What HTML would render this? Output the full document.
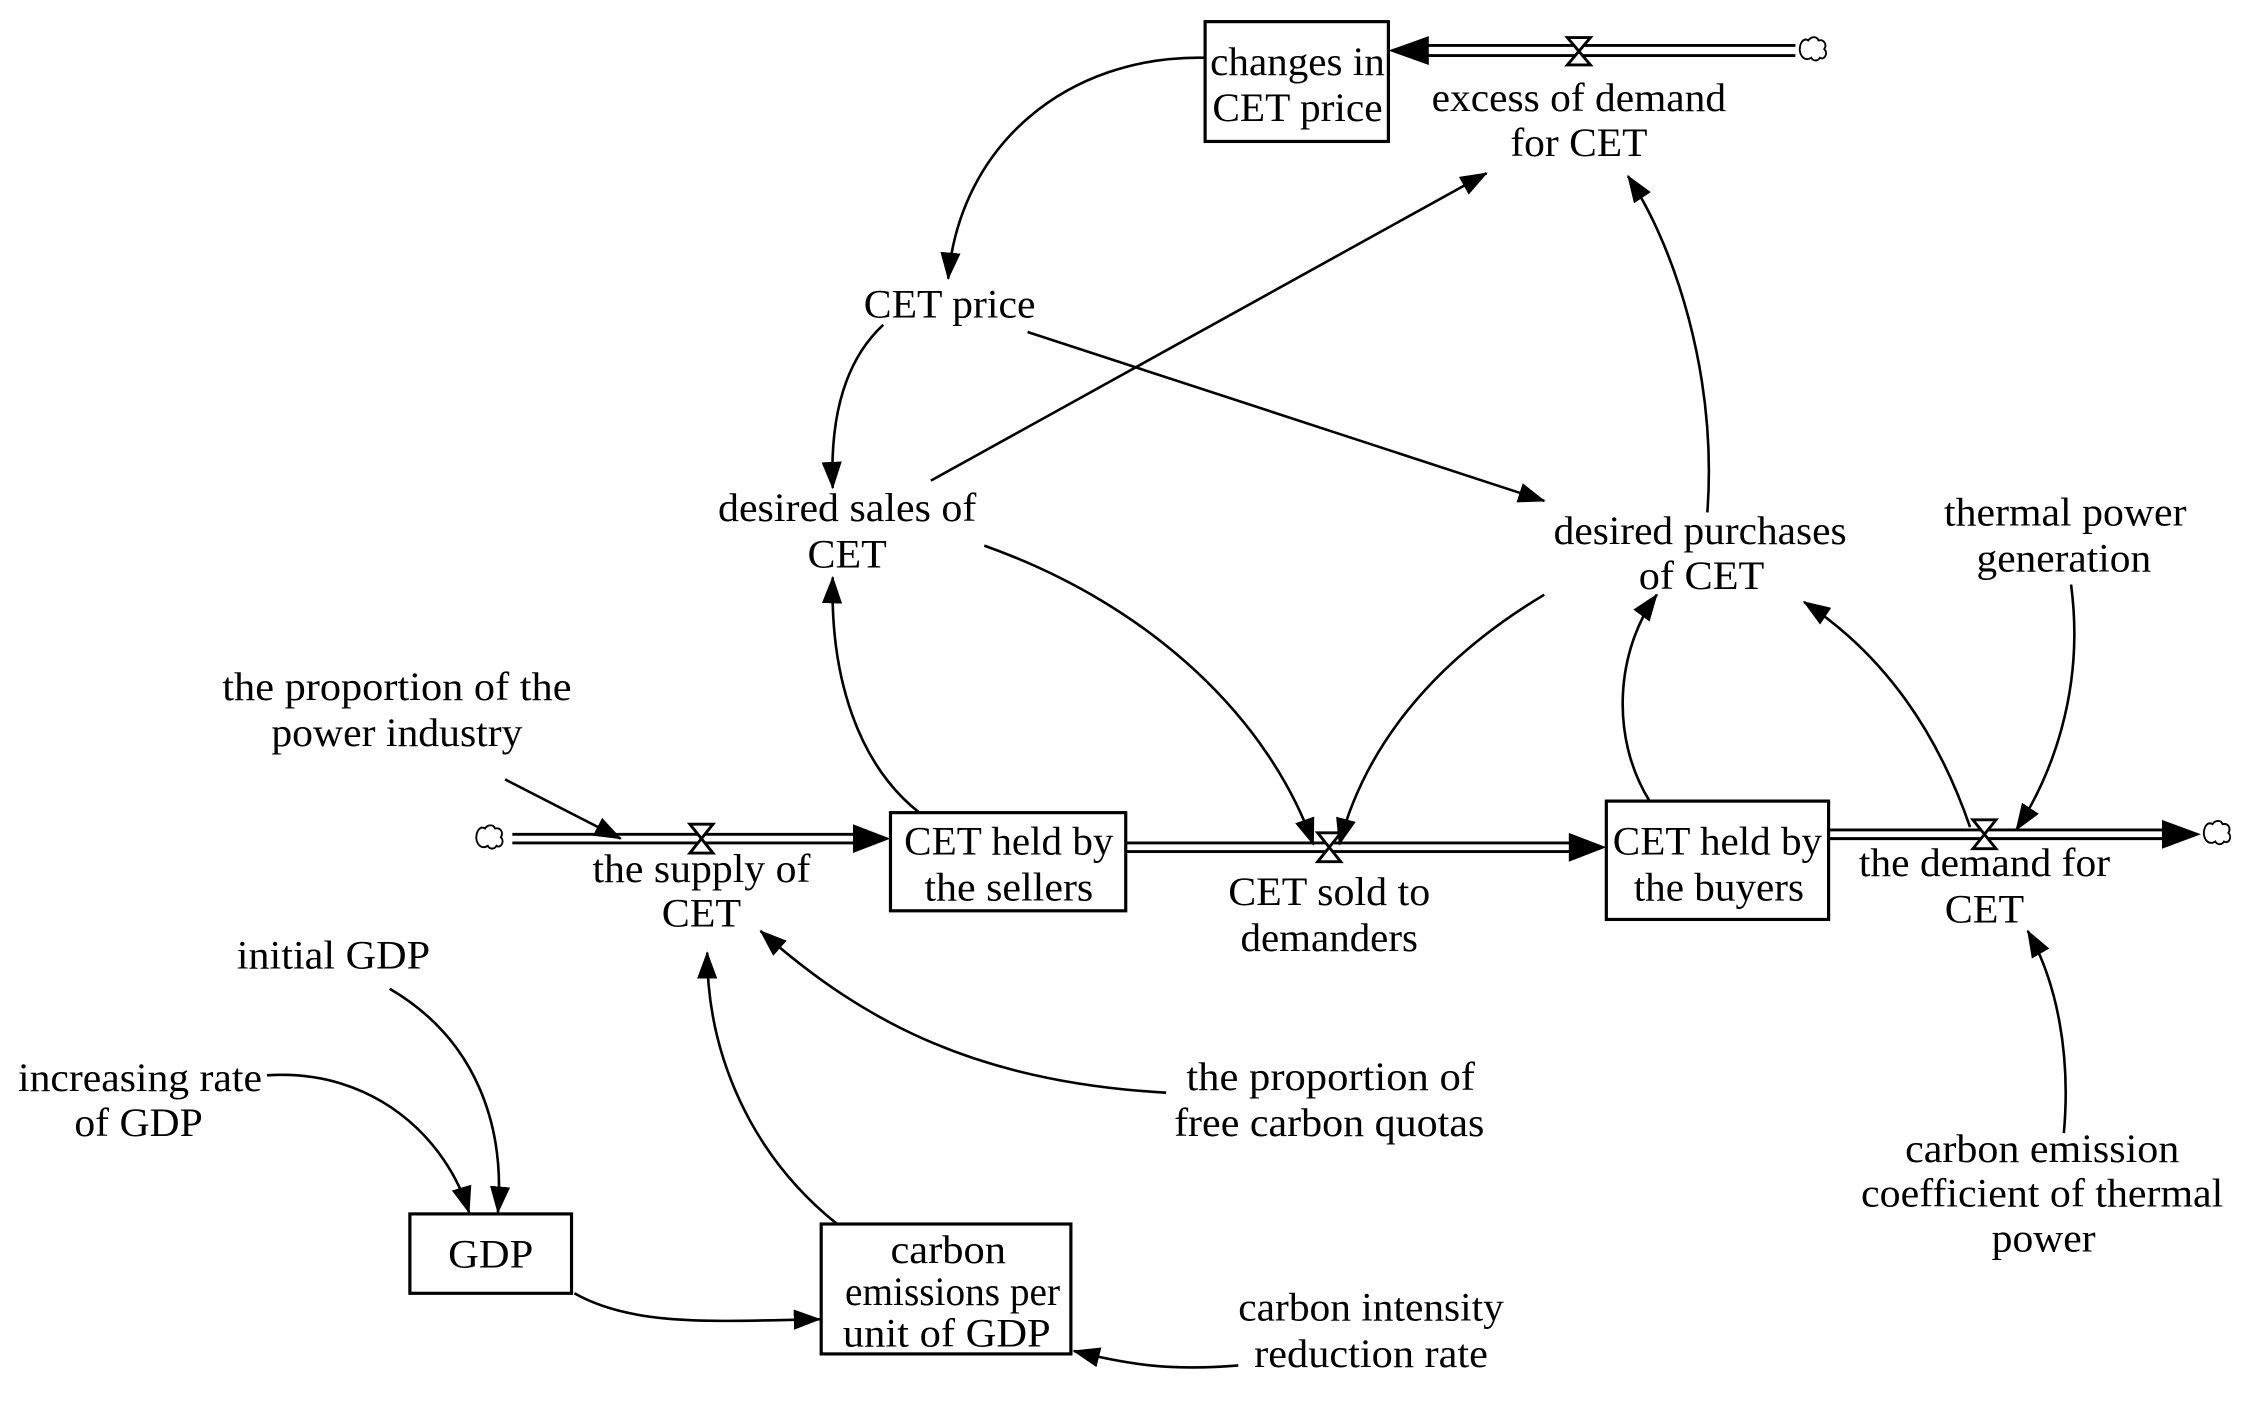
<!DOCTYPE html>
<html><head><meta charset="utf-8"><style>
html,body{margin:0;padding:0;background:#fff;}
svg{display:block;}
text{font-family:"Liberation Serif",serif;font-size:28px;fill:#000;}
</style></head><body>
<svg width="2263" height="1403" viewBox="0 0 1568 972" preserveAspectRatio="none" xmlns="http://www.w3.org/2000/svg">
<defs>
<marker id="a" markerWidth="20" markerHeight="14" refX="18" refY="7" orient="auto" markerUnits="userSpaceOnUse">
<path d="M0,0 L19,7 L0,14 Z" fill="#000"/></marker>
<marker id="b" markerWidth="26" markerHeight="20" refX="25" refY="10" orient="auto" markerUnits="userSpaceOnUse">
<path d="M0,0 L26,10 L0,20 Z" fill="#000"/></marker>
</defs>
<g fill="none" stroke="#000" stroke-width="2">
<!-- flows: double lines -->
<path d="M1244,31.5 H985 M1244,38.5 H985"/>
<path d="M355,578 H600 M355,584 H600"/>
<path d="M780,584 H1095 M780,590 H1095"/>
<path d="M1267,575 H1505 M1267,581 H1505"/>
</g>
<!-- flow arrowheads -->
<path d="M962,35 L990,25 L990,45 Z"/>
<path d="M617,581 L591,571 L591,591 Z"/>
<path d="M1113,587 L1087,577 L1087,597 Z"/>
<path d="M1525,578 L1498,568 L1498,588 Z"/>
<!-- clouds -->
<g fill="#fff" stroke="#000" stroke-width="1.3">
<path d="M1247,35 c0,-6 3,-9 6,-7 c2,-3 6,-3 7,0 c4,-1 6,3 4,6 c3,3 0,8 -3,6 c-2,3 -5,2 -6,0 c-3,2 -7,1 -8,-5z"/>
<path d="M330,581 c0,-6 3,-9 6,-7 c2,-3 6,-3 7,0 c4,-1 6,3 4,6 c3,3 0,8 -3,6 c-2,3 -5,2 -6,0 c-3,2 -7,1 -8,-5z"/>
<path d="M1527,578 c0,-6 3,-9 6,-7 c2,-3 6,-3 7,0 c4,-1 6,3 4,6 c3,3 0,8 -3,6 c-2,3 -5,2 -6,0 c-3,2 -7,1 -8,-5z"/>
</g>
<!-- valves -->
<g fill="#fff" stroke="#000" stroke-width="2">
<path d="M1086,26 H1102 L1086,45 H1102 Z"/>
<path d="M478,571 H494 L478,591 H494 Z"/>
<path d="M913,577 H929 L913,597 H929 Z"/>
<path d="M1367,568 H1383 L1367,588 H1383 Z"/>
</g>
<!-- boxes -->
<g fill="none" stroke="#000" stroke-width="2.2">
<rect x="835" y="15" width="127" height="83"/>
<rect x="617" y="563" width="163" height="68"/>
<rect x="1113" y="555" width="154" height="82"/>
<rect x="284" y="841" width="112" height="55"/>
<rect x="569" y="848" width="173" height="90"/>
</g>
<!-- causal links -->
<g fill="none" stroke="#000" stroke-width="1.8" marker-end="url(#a)">
<path d="M835,40 C740,38 665,100 657,193"/>
<path d="M612,225 C585,250 575,290 577,338"/>
<path d="M712,230 L1070,347"/>
<path d="M645,333 L1030,120"/>
<path d="M1183,355 C1190,260 1160,170 1128,122"/>
<path d="M682,378 C800,420 880,500 910,585"/>
<path d="M1070,412 C990,460 945,520 928,585"/>
<path d="M637,563 C595,530 575,470 577,400"/>
<path d="M1143,555 C1115,510 1120,450 1148,412"/>
<path d="M1365,573 C1340,500 1300,450 1250,417"/>
<path d="M1435,405 C1445,480 1420,540 1397,575"/>
<path d="M1430,785 C1435,730 1425,680 1405,645"/>
<path d="M350,540 L430,581"/>
<path d="M808,757 C680,750 600,710 527,645"/>
<path d="M580,848 C520,800 490,730 490,660"/>
<path d="M270,685 C330,720 350,780 345,840"/>
<path d="M185,745 C260,740 310,790 325,840"/>
<path d="M398,896 C440,920 500,915 568,914"/>
<path d="M858,946 C810,950 780,945 744,936"/>
</g>
<!-- labels -->
<g text-anchor="middle" lengthAdjust="spacingAndGlyphs">
<text x="899" y="52" textLength="121" lengthAdjust="spacingAndGlyphs">changes in</text>
<text x="899" y="84" textLength="118" lengthAdjust="spacingAndGlyphs">CET price</text>
<text x="1094" y="77" textLength="204" lengthAdjust="spacingAndGlyphs">excess of demand</text>
<text x="1094" y="108" textLength="95" lengthAdjust="spacingAndGlyphs">for CET</text>
<text x="658" y="220" textLength="119" lengthAdjust="spacingAndGlyphs">CET price</text>
<text x="587" y="361" textLength="179" lengthAdjust="spacingAndGlyphs">desired sales of</text>
<text x="587" y="393" textLength="55" lengthAdjust="spacingAndGlyphs">CET</text>
<text x="1178" y="377" textLength="203" lengthAdjust="spacingAndGlyphs">desired purchases</text>
<text x="1179" y="408" textLength="87" lengthAdjust="spacingAndGlyphs">of CET</text>
<text x="1431" y="364" textLength="168" lengthAdjust="spacingAndGlyphs">thermal power</text>
<text x="1430" y="396" textLength="121" lengthAdjust="spacingAndGlyphs">generation</text>
<text x="275" y="485" textLength="242" lengthAdjust="spacingAndGlyphs">the proportion of the</text>
<text x="275" y="517" textLength="174" lengthAdjust="spacingAndGlyphs">power industry</text>
<text x="486" y="611" textLength="151" lengthAdjust="spacingAndGlyphs">the supply of</text>
<text x="486" y="642" textLength="55" lengthAdjust="spacingAndGlyphs">CET</text>
<text x="699" y="592" textLength="145" lengthAdjust="spacingAndGlyphs">CET held by</text>
<text x="699" y="624" textLength="117" lengthAdjust="spacingAndGlyphs">the sellers</text>
<text x="921" y="627" textLength="140" lengthAdjust="spacingAndGlyphs">CET sold to</text>
<text x="921" y="659" textLength="123" lengthAdjust="spacingAndGlyphs">demanders</text>
<text x="1190" y="592" textLength="145" lengthAdjust="spacingAndGlyphs">CET held by</text>
<text x="1191" y="624" textLength="118" lengthAdjust="spacingAndGlyphs">the buyers</text>
<text x="1375" y="607" textLength="174" lengthAdjust="spacingAndGlyphs">the demand for</text>
<text x="1375" y="639" textLength="55" lengthAdjust="spacingAndGlyphs">CET</text>
<text x="231" y="671" textLength="134" lengthAdjust="spacingAndGlyphs">initial GDP</text>
<text x="97" y="756" textLength="169" lengthAdjust="spacingAndGlyphs">increasing rate</text>
<text x="96" y="787" textLength="89" lengthAdjust="spacingAndGlyphs">of GDP</text>
<text x="922" y="755" textLength="200" lengthAdjust="spacingAndGlyphs">the proportion of</text>
<text x="921" y="787" textLength="215" lengthAdjust="spacingAndGlyphs">free carbon quotas</text>
<text x="340" y="878" textLength="59" lengthAdjust="spacingAndGlyphs">GDP</text>
<text x="657" y="875" textLength="80" lengthAdjust="spacingAndGlyphs">carbon</text>
<text x="660" y="904" textLength="149" lengthAdjust="spacingAndGlyphs">emissions per</text>
<text x="656" y="933" textLength="144" lengthAdjust="spacingAndGlyphs">unit of GDP</text>
<text x="950" y="915" textLength="184" lengthAdjust="spacingAndGlyphs">carbon intensity</text>
<text x="950" y="947" textLength="162" lengthAdjust="spacingAndGlyphs">reduction rate</text>
<text x="1415" y="805" textLength="190" lengthAdjust="spacingAndGlyphs">carbon emission</text>
<text x="1415" y="836" textLength="251" lengthAdjust="spacingAndGlyphs">coefficient of thermal</text>
<text x="1416" y="867" textLength="72" lengthAdjust="spacingAndGlyphs">power</text>
</g>
</svg>
</body></html>
